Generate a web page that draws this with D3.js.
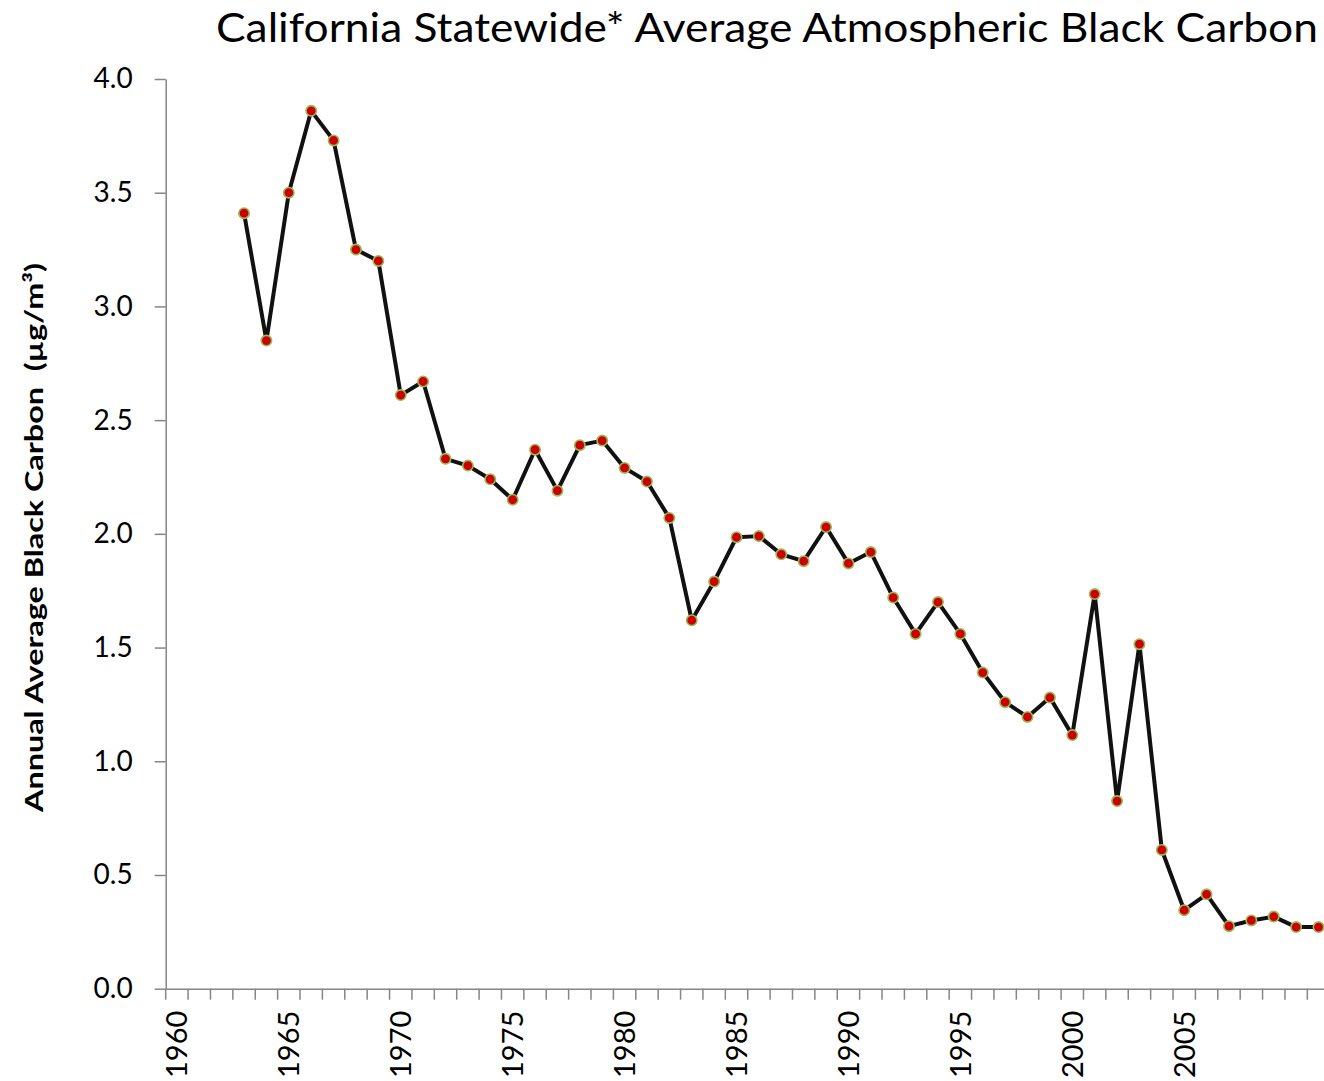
<!DOCTYPE html>
<html>
<head>
<meta charset="utf-8">
<script src="https://cdn.jsdelivr.net/npm/d3@7"></script>
<style>
  body { margin: 0; background: #fff; }
  svg { display: block; font-family: Lato, "Open Sans", sans-serif; }
</style>
</head>
<body>
<div id="chart"></div>
<script>
const years = d3.range(1960, 2012);
const dataYears = d3.range(1963, 2012);
const blackCarbon = [
    3.41, 2.85, 3.50, 3.86, 3.73, 3.25, 3.20, 2.61, 2.67, 2.33,
    2.30, 2.24, 2.15, 2.37, 2.19, 2.39, 2.41, 2.29, 2.23, 2.07,
    1.62, 1.79, 1.985, 1.99, 1.91, 1.88, 2.03, 1.87, 1.92, 1.72,
    1.56, 1.70, 1.56, 1.39, 1.26, 1.195, 1.28, 1.115, 1.735, 0.825,
    1.515, 0.61, 0.345, 0.415, 0.275, 0.30, 0.317, 0.271, 0.271
];
const yTicks = [0, 0.5, 1, 1.5, 2, 2.5, 3, 3.5, 4];
const labelYears = [1960, 1965, 1970, 1975, 1980, 1985, 1990, 1995, 2000, 2005];

const data = dataYears.map((yr, i) => ({ year: yr, value: blackCarbon[i] }));

const width = 1324;
const height = 1081;
const plotLeft = 165.7;
const plotTop = 79;
const plotBottom = 988.7;
const axisColor = '#868686';

const svg = d3
    .select('#chart')
    .append('svg')
    .attr('width', width)
    .attr('height', height);

const x = d3
    .scaleBand()
    .domain(years)
    .range([plotLeft, plotLeft + years.length * 22.385])
    .padding(0);

const y = d3
    .scaleLinear()
    .domain([0, 4])
    .range([plotBottom, plotTop]);

// title
svg
    .append('text')
    .attr('x', 216)
    .attr('y', 42)
    .attr('textLength', 1102)
    .attr('lengthAdjust', 'spacingAndGlyphs')
    .style('font-size', '40px')
    .style('fill', '#000')
    .text('California Statewide* Average Atmospheric Black Carbon');

// y axis
const yAxis = svg
    .append('g')
    .attr('transform', `translate(${plotLeft},0)`)
    .call(d3.axisLeft(y).tickValues(yTicks).tickFormat(d3.format('.1f')).tickSize(11).tickPadding(22).tickSizeOuter(0));
yAxis.select('.domain').attr('stroke', axisColor).attr('stroke-width', 1.5);
yAxis.selectAll('.tick line').attr('stroke', axisColor).attr('stroke-width', 1.5);
yAxis.selectAll('.tick text')
    .style('font-size', '28px')
    .style('font-family', 'Lato, sans-serif')
    .attr('fill', '#000');

// x axis: labels centred in categories, ticks on category edges
const xAxis = svg
    .append('g')
    .attr('transform', `translate(0,${plotBottom})`)
    .call(d3.axisBottom(x).tickValues(labelYears).tickSize(0).tickPadding(0).tickSizeOuter(0));
xAxis.select('.domain').attr('stroke', axisColor).attr('stroke-width', 1.5);
xAxis.selectAll('.tick text')
    .attr('transform', 'rotate(-90)')
    .attr('text-anchor', 'end')
    .attr('x', -22)
    .attr('y', 0)
    .attr('dy', '0.36em')
    .style('font-size', '29px')
    .style('font-family', 'Lato, sans-serif')
    .attr('fill', '#000');

svg
    .append('g')
    .selectAll('line')
    .data(years)
    .join('line')
    .attr('x1', d => x(d))
    .attr('x2', d => x(d))
    .attr('y1', plotBottom)
    .attr('y2', plotBottom + 11)
    .attr('stroke', axisColor)
    .attr('stroke-width', 1.5);

// y axis title
svg
    .append('text')
    .attr('transform', 'translate(43,537.5) rotate(-90)')
    .attr('text-anchor', 'middle')
    .attr('textLength', 549)
    .attr('lengthAdjust', 'spacingAndGlyphs')
    .style('white-space', 'pre')
    .style('font-size', '25px')
    .style('font-weight', 'bold')
    .style('fill', '#000')
    .text('Annual Average Black Carbon  (µg/m³)');

// series
const cx = d => x(d.year) + x.bandwidth() / 2;

svg
    .append('path')
    .datum(data)
    .attr('fill', 'none')
    .attr('stroke', '#111')
    .attr('stroke-width', 4)
    .attr('stroke-linejoin', 'round')
    .attr('d', d3.line().x(cx).y(d => y(d.value)));

svg
    .append('g')
    .selectAll('circle')
    .data(data)
    .join('circle')
    .attr('cx', cx)
    .attr('cy', d => y(d.value))
    .attr('r', 5.2)
    .style('fill', '#cc0000')
    .style('stroke', '#9bbb59')
    .style('stroke-width', 1.6);
</script>
</body>
</html>
